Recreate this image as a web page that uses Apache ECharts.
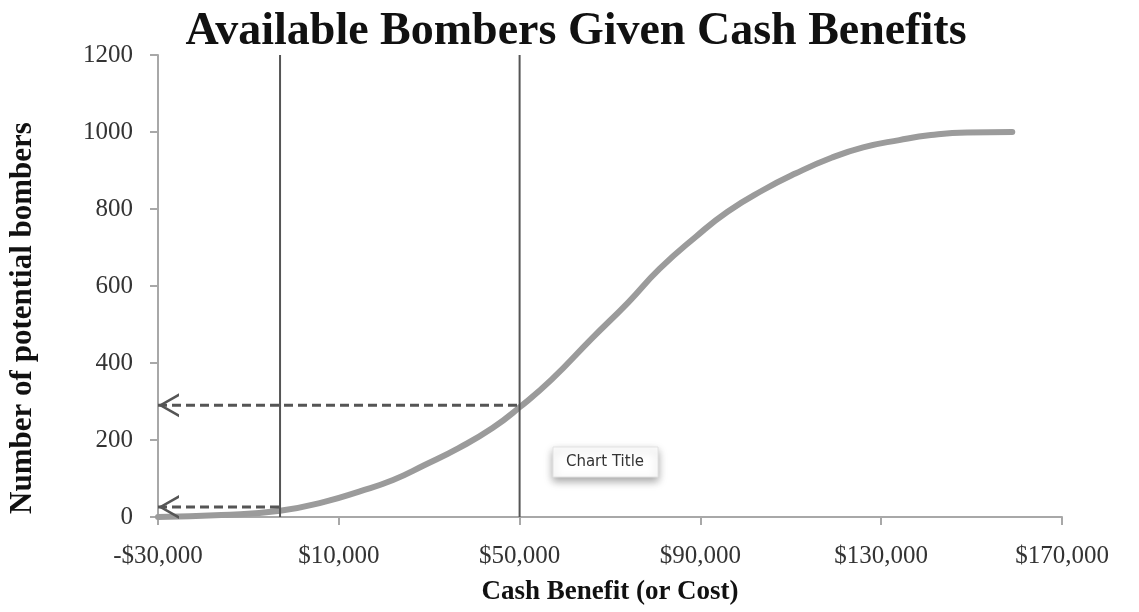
<!DOCTYPE html>
<html>
<head>
<meta charset="utf-8">
<title>Available Bombers Given Cash Benefits</title>
<script src="https://cdn.jsdelivr.net/npm/echarts@6/dist/echarts.min.js"></script>
<style>
  html, body { margin: 0; padding: 0; background: #fff; }
  #main { width: 1139px; height: 612px; }
</style>
</head>
<body>
<div id="main"></div>
<script>
// cash benefit (x) and number of potential bombers (y)
const cashBenefit = [-30000, -16000, -3000, 7000, 14500, 22000, 29000, 36500, 44000, 50000,
  57000, 66000, 74000, 81000, 89000, 96000, 104000, 111000, 119000, 126000,
  134000, 141000, 149000, 159000]
const bombers = [0, 5, 16, 40, 66, 96, 135, 179, 231, 285,
  356, 464, 557, 645, 728, 793, 850, 892, 933, 960,
  979, 992, 999, 1000]

// vertical marker lines and the levels they point back to
const cutoffs = [-3000, 50000]
const cutoffLevels = [26, 290]

const xTicks = [-30000, 10000, 50000, 90000, 130000, 170000]

const serif = "'Liberation Serif', 'Times New Roman', serif"
const dark = '#555'
const axisGray = '#a8a8a8'
// open "<" arrow head
const chevron = 'path://M21,0 L0,12 L21,24 L21,21 L5,12 L21,3 Z'

function money(v) {
    let s = '$' + Math.abs(v).toLocaleString('en-US')
    return v < 0 ? '-' + s : s
}

let curve = cashBenefit.map((x, i) => [x, bombers[i]])

let series = [{
    name: 'bombers',
    type: 'line',
    data: curve,
    smooth: 0.5,
    showSymbol: false,
    z: 3,
    lineStyle: { color: '#9b9b9b', width: 6, cap: 'round' }
}]

cutoffs.forEach((c, i) => {
    // vertical line
    series.push({
        type: 'line',
        data: [[c, 0], [c, 1200]],
        showSymbol: false,
        z: 4,
        lineStyle: { color: dark, width: 2 }
    })
    // dashed line back to the y axis, arrow at the axis end
    series.push({
        type: 'line',
        data: [
            { value: [xTicks[0], cutoffLevels[i]], symbol: chevron, symbolSize: [21, 24], symbolOffset: ['50%', 0] },
            { value: [c, cutoffLevels[i]], symbol: 'none' }
        ],
        showAllSymbol: true,
        z: 4,
        itemStyle: { color: dark },
        lineStyle: { color: dark, width: 3, type: [9, 5] }
    })
})

var myChart = echarts.init(document.getElementById('main'))

var option = {
    animation: false,
    title: {
        text: 'Available Bombers Given Cash Benefits',
        left: 571,
        top: 4,
        textAlign: 'center',
        textStyle: { fontFamily: serif, fontWeight: 'bold', fontSize: 46, color: '#111' }
    },
    grid: { left: 158, right: 77, top: 55, bottom: 95 },
    xAxis: {
        type: 'value',
        min: xTicks[0],
        max: xTicks[xTicks.length - 1],
        name: 'Cash Benefit (or Cost)',
        nameLocation: 'middle',
        nameGap: 62,
        nameTextStyle: { fontFamily: serif, fontWeight: 'bold', fontSize: 27, color: '#111' },
        axisLine: { lineStyle: { color: axisGray, width: 2 } },
        axisTick: { show: true, length: 8, customValues: xTicks, lineStyle: { color: axisGray, width: 2 } },
        axisLabel: { customValues: xTicks, margin: 27, formatter: money, fontFamily: serif, fontSize: 25, color: '#333' },
        splitLine: { show: false }
    },
    yAxis: {
        type: 'value',
        min: 0,
        max: 1200,
        interval: 200,
        axisLine: { show: true, onZero: false, lineStyle: { color: axisGray, width: 2 } },
        axisTick: { show: true, length: 8, lineStyle: { color: axisGray, width: 2 } },
        axisLabel: { margin: 25, formatter: v => String(v), fontFamily: serif, fontSize: 25, color: '#333' },
        splitLine: { show: false }
    },
    graphic: [
        {
            type: 'text',
            x: 23,
            y: 318,
            rotation: Math.PI / 2,
            style: {
                text: 'Number of potential bombers',
                font: "bold 31px 'Liberation Serif', serif",
                fill: '#111',
                align: 'center',
                verticalAlign: 'middle'
            }
        },
        {
            // the stray "Chart Title" placeholder seen in the screenshot
            type: 'group',
            x: 553,
            y: 447,
            children: [
                {
                    type: 'rect',
                    shape: { x: 0, y: 0, width: 105, height: 30 },
                    style: {
                        fill: '#fff', stroke: '#e2e2e2', lineWidth: 1,
                        shadowBlur: 8, shadowOffsetY: 4, shadowColor: 'rgba(0,0,0,0.35)'
                    }
                },
                {
                    type: 'text',
                    x: 52,
                    y: 15,
                    style: {
                        text: 'Chart Title',
                        font: "15px 'DejaVu Sans', sans-serif",
                        fill: '#333',
                        align: 'center',
                        verticalAlign: 'middle'
                    }
                }
            ]
        }
    ],
    series: series
}

myChart.setOption(option)
</script>
</body>
</html>
